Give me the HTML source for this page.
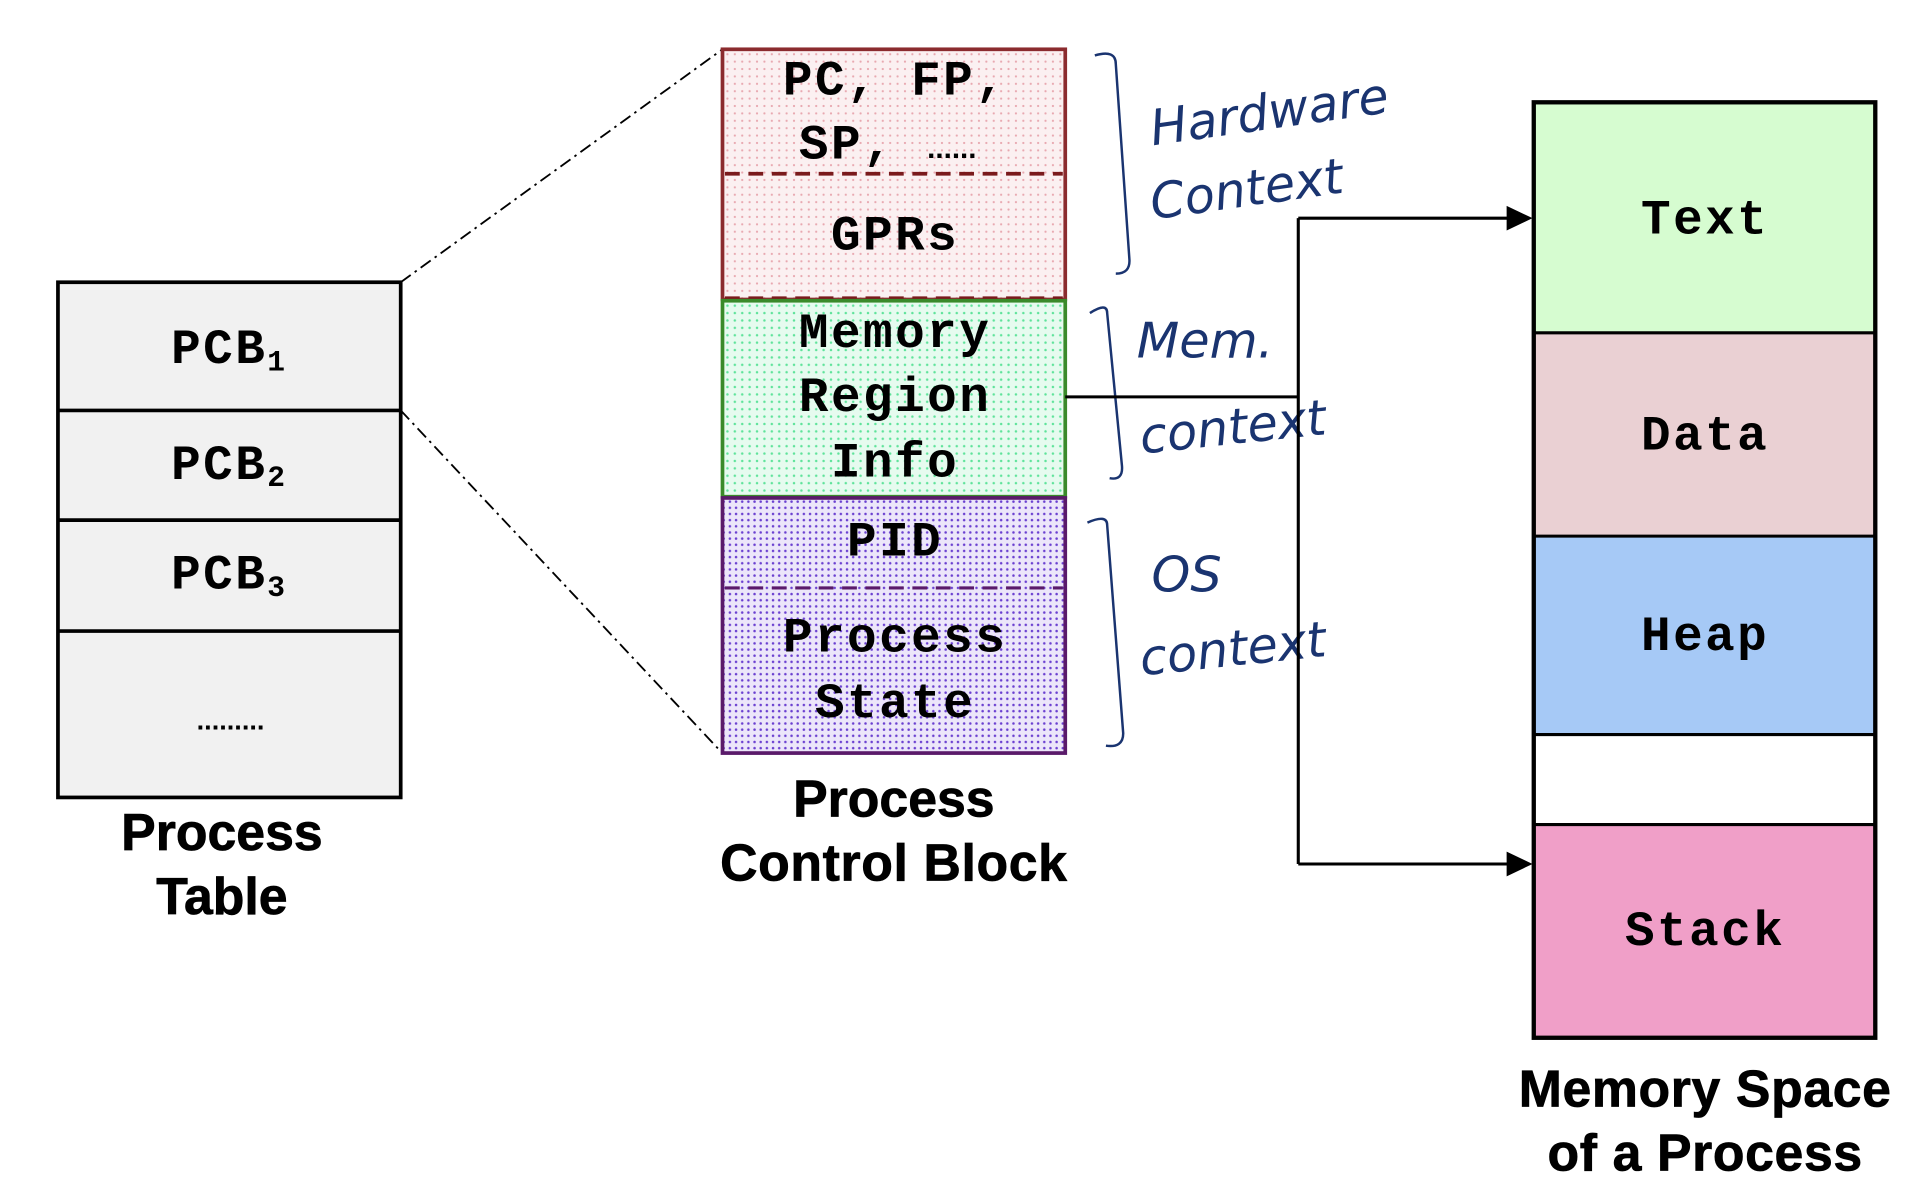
<!DOCTYPE html>
<html><head><meta charset="utf-8"><style>
html,body{margin:0;padding:0;background:#fff;}
svg{display:block;}
.m{font-family:"Liberation Mono",monospace;font-weight:bold;font-size:40px;letter-spacing:2px;fill:#000;text-anchor:middle;dominant-baseline:central;}
.t{font-family:"Liberation Sans",sans-serif;font-weight:bold;font-size:42px;fill:#000;text-anchor:middle;dominant-baseline:central;stroke:#000;stroke-width:0.6px;}
.h{font-family:"DejaVu Sans",sans-serif;font-style:italic;font-weight:200;font-size:40px;fill:#1a3470;}
</style></head><body>
<svg width="1932" height="1198" viewBox="0 0 1567 972" preserveAspectRatio="none" xmlns="http://www.w3.org/2000/svg">
<defs>
<pattern id="pr" width="6" height="6" patternUnits="userSpaceOnUse"><rect width="6" height="6" fill="#fbf0f1"/><circle cx="2" cy="2" r="0.9" fill="#e8a8b0"/></pattern>
<pattern id="pg" width="6" height="6" patternUnits="userSpaceOnUse"><rect width="6" height="6" fill="#e6fbef"/><circle cx="2" cy="2" r="1" fill="#5ee39a"/></pattern>
<pattern id="pp" width="5" height="5" patternUnits="userSpaceOnUse"><rect width="5" height="5" fill="#ece6fa"/><circle cx="2" cy="2" r="1" fill="#6a3fd0"/></pattern>
</defs>
<!-- process table -->
<rect x="47" y="229" width="278" height="418" fill="#f1f1f1" stroke="#000" stroke-width="3"/>
<line x1="47" y1="333" x2="325" y2="333" stroke="#000" stroke-width="3"/>
<line x1="47" y1="422" x2="325" y2="422" stroke="#000" stroke-width="3"/>
<line x1="47" y1="512" x2="325" y2="512" stroke="#000" stroke-width="3"/>
<text class="m" x="186" y="284">PCB<tspan font-size="24" dy="10">1</tspan></text>
<text class="m" x="186" y="378">PCB<tspan font-size="24" dy="10">2</tspan></text>
<text class="m" x="186" y="467">PCB<tspan font-size="24" dy="10">3</tspan></text>
<text x="187" y="592" font-family="Liberation Sans, sans-serif" font-size="22" font-weight="bold" text-anchor="middle">.........</text>
<text class="t" x="180" y="675">Process</text>
<text class="t" x="180" y="727">Table</text>
<line x1="325" y1="229" x2="586" y2="40" stroke="#000" stroke-width="1.5" stroke-dasharray="10,4,2,4"/>
<line x1="325" y1="333" x2="583" y2="608" stroke="#000" stroke-width="1.5" stroke-dasharray="10,4,2,4"/>
<!-- PCB -->
<rect x="586" y="40" width="278" height="203" fill="url(#pr)" stroke="#8b2b2e" stroke-width="3"/>
<line x1="588" y1="141" x2="862" y2="141" stroke="#7a1a1c" stroke-width="3" stroke-dasharray="12,7"/>
<line x1="588" y1="242" x2="862" y2="242" stroke="#7a1a1c" stroke-width="3" stroke-dasharray="12,7"/>
<rect x="586" y="244" width="278" height="159" fill="url(#pg)" stroke="#3a8a2a" stroke-width="3"/>
<rect x="586" y="404" width="278" height="207" fill="url(#pp)" stroke="#5a1a6a" stroke-width="3"/>
<line x1="588" y1="477" x2="862" y2="477" stroke="#5a1a6a" stroke-width="2.5" stroke-dasharray="12,7"/>
<text class="m" x="726" y="66">PC, FP,</text>
<text class="m" x="648" y="118" style="text-anchor:start">SP,</text>
<text x="752" y="128" font-family="Liberation Sans, sans-serif" font-size="24" font-weight="bold">......</text>
<text class="m" x="726" y="192">GPRs</text>
<text class="m" x="726" y="271">Memory</text>
<text class="m" x="726" y="323">Region</text>
<text class="m" x="726" y="376">Info</text>
<text class="m" x="726" y="440">PID</text>
<text class="m" x="726" y="518">Process</text>
<text class="m" x="726" y="571">State</text>
<text class="t" x="725" y="648">Process</text>
<text class="t" x="725" y="700" letter-spacing="0.5">Control Block</text>
<!-- brackets -->
<g fill="none" stroke="#1a3470" stroke-width="2">
<path d="M888,45 Q905,40 905,52 L916,210 Q917,222 905,222"/>
<path d="M884,254 Q898,245 898,254 L910,378 Q911,390 900,388"/>
<path d="M882,424 Q898,417 898,426 L911,595 Q911,607 897,605"/>
</g>
<text class="h" x="935" y="118" font-weight="100" transform="rotate(-8 935 118)">Hardware</text>
<text class="h" x="935" y="178" font-weight="100" transform="rotate(-8 935 178)">Context</text>
<text class="h" x="922" y="290" font-size="38" font-weight="100">Mem.</text>
<text class="h" x="926" y="368" font-size="32" font-weight="100" transform="rotate(-6 926 368)">context</text>
<text class="h" x="934" y="480" font-size="36" font-weight="100">OS</text>
<text class="h" x="926" y="548" font-size="32" font-weight="100" transform="rotate(-6 926 548)">context</text>
<!-- connector -->
<path d="M864,322 L1053,322 M1053,177 L1053,701" stroke="#000" stroke-width="2.5" fill="none"/>
<line x1="1053" y1="177" x2="1225" y2="177" stroke="#000" stroke-width="2.5"/>
<path d="M1243,177 L1222,167 L1222,187z" fill="#000"/>
<line x1="1053" y1="701" x2="1225" y2="701" stroke="#000" stroke-width="2.5"/>
<path d="M1243,701 L1222,691 L1222,711z" fill="#000"/>
<!-- memory -->
<rect x="1244" y="83" width="277" height="187" fill="#d6fcd0"/>
<rect x="1244" y="270" width="277" height="165" fill="#ead0d3"/>
<rect x="1244" y="435" width="277" height="161" fill="#a6c9f6"/>
<rect x="1244" y="596" width="277" height="73" fill="#fff"/>
<rect x="1244" y="669" width="277" height="173" fill="#f09fc8"/>
<g stroke="#000" stroke-width="2.5"><line x1="1244" y1="270" x2="1521" y2="270"/><line x1="1244" y1="435" x2="1521" y2="435"/><line x1="1244" y1="596" x2="1521" y2="596"/><line x1="1244" y1="669" x2="1521" y2="669"/></g>
<rect x="1244" y="83" width="277" height="759" fill="none" stroke="#000" stroke-width="3.5"/>
<text class="m" x="1383" y="179">Text</text>
<text class="m" x="1383" y="354">Data</text>
<text class="m" x="1383" y="517">Heap</text>
<text class="m" x="1383" y="756">Stack</text>
<text class="t" x="1383" y="883" letter-spacing="0.5">Memory Space</text>
<text class="t" x="1383" y="935" letter-spacing="0.5">of a Process</text>
</svg>
</body></html>
